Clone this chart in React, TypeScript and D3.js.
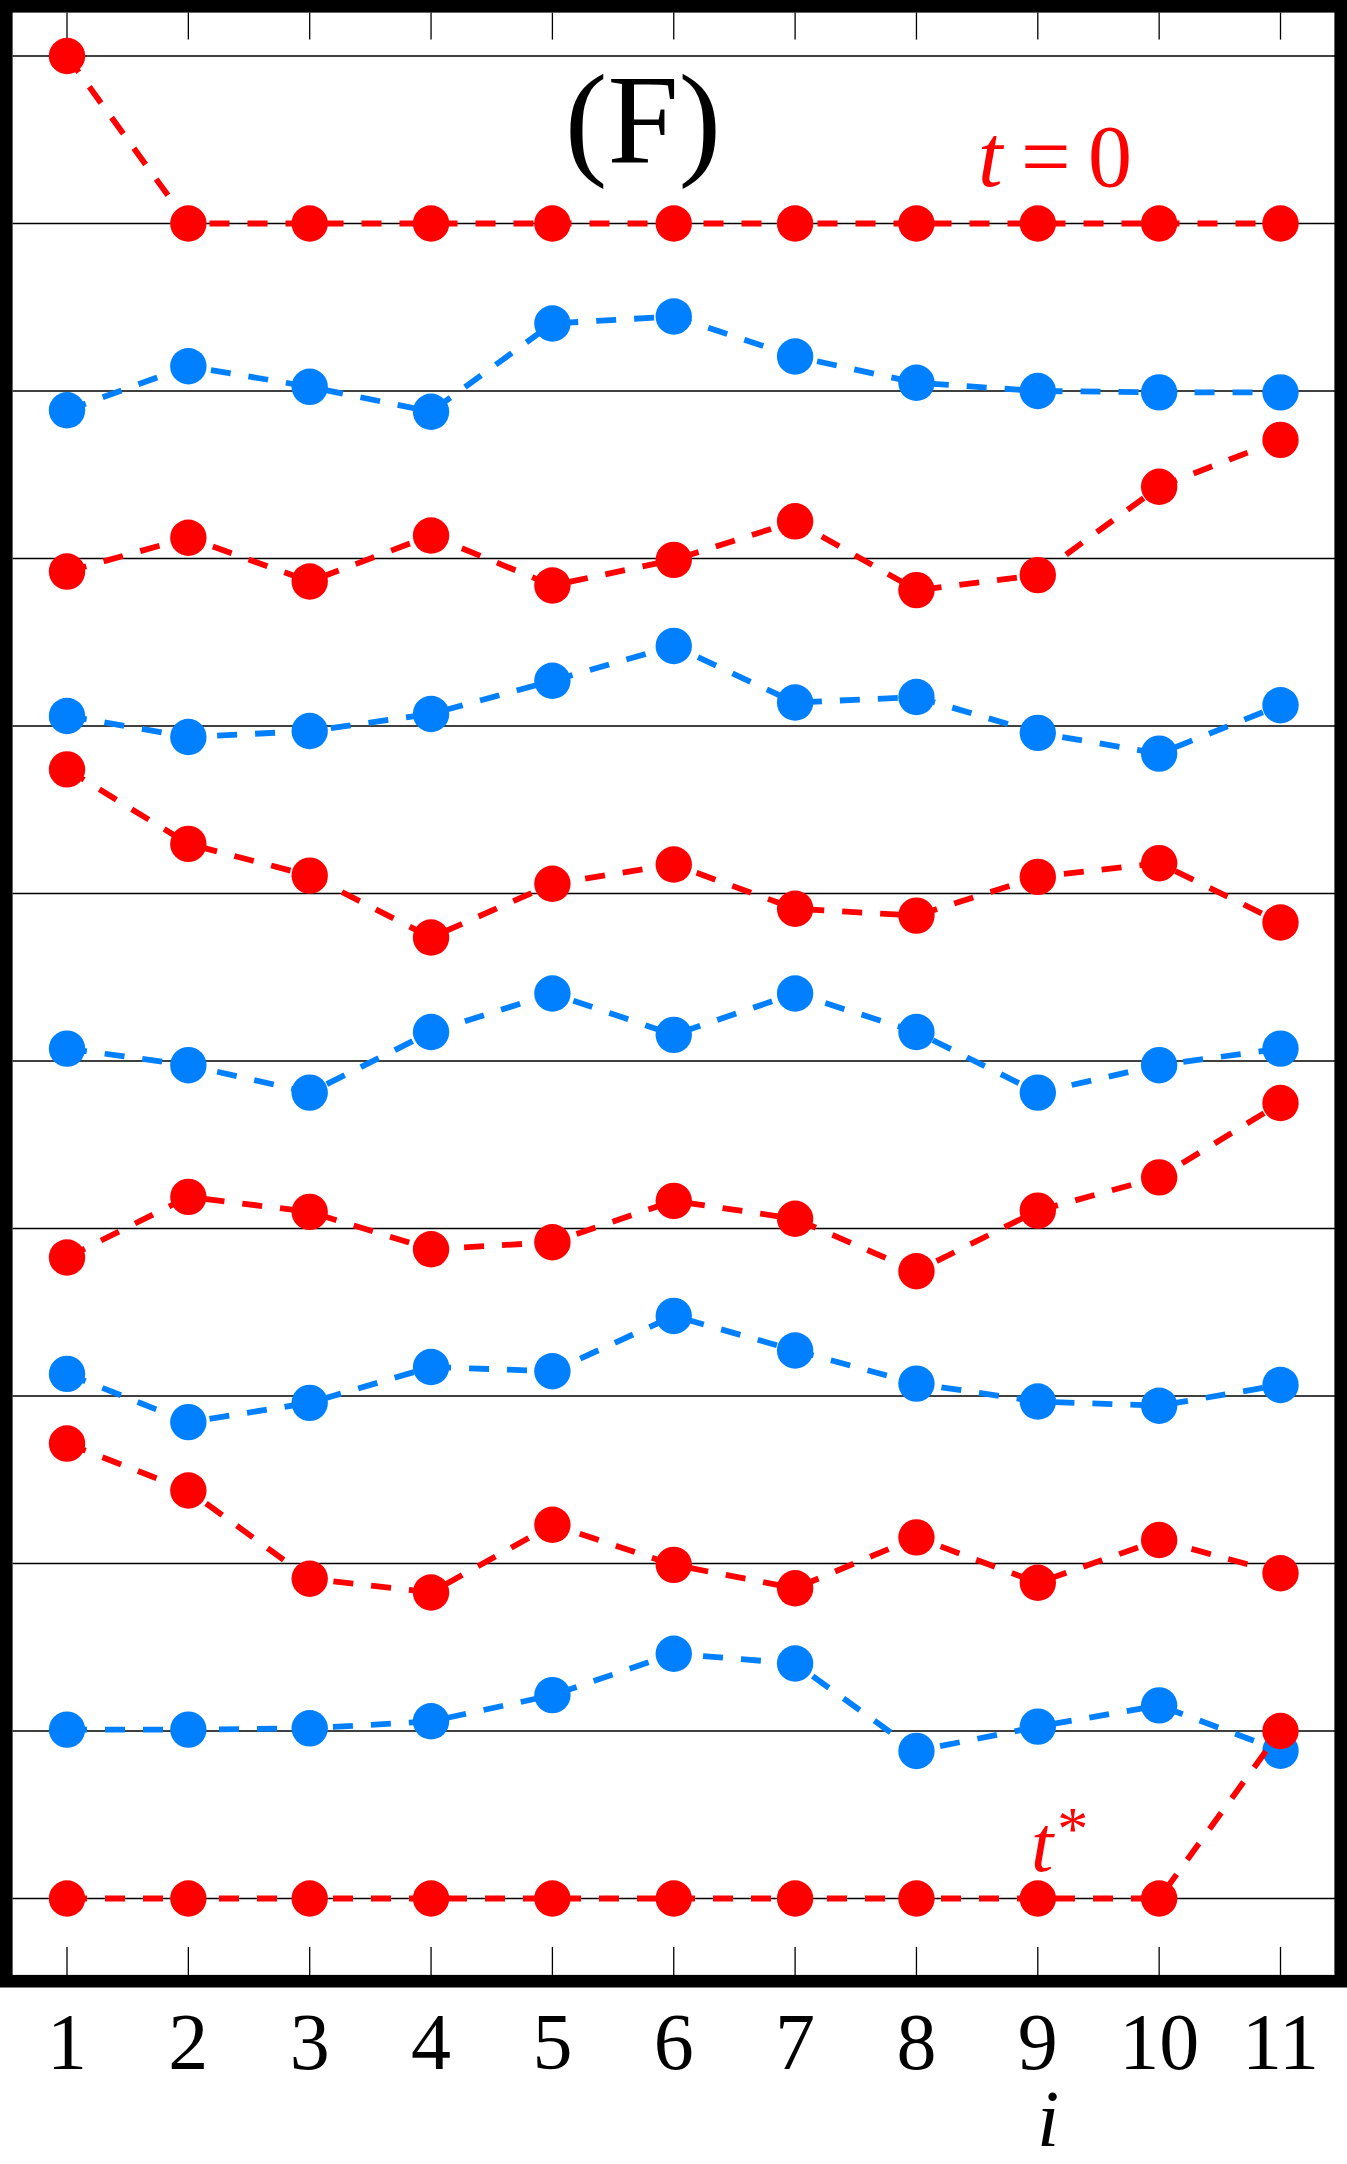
import React from "react";
import * as d3 from "d3";

const W = 1347;
const H = 2164;

const steps = [1, 2, 3, 4, 5, 6, 7, 8, 9, 10, 11];
const gridLevels = [0, 1, 2, 3, 4, 5, 6, 7, 8, 9, 10, 11];

const s0 = [11, 10, 10, 10, 10, 10, 10, 10, 10, 10, 10];
const s1 = [8.885, 9.148, 9.025, 8.876, 9.403, 9.445, 9.206, 9.049, 9.0, 8.992, 8.992];
const s2 = [7.922, 8.124, 7.863, 8.137, 7.839, 7.992, 8.222, 7.811, 7.901, 8.428, 8.708];
const s3 = [7.06, 6.934, 6.97, 7.072, 7.27, 7.478, 7.14, 7.173, 6.959, 6.835, 7.124];
const s4 = [6.741, 6.296, 6.107, 5.737, 6.058, 6.173, 5.909, 5.868, 6.099, 6.181, 5.827];
const s5 = [5.074, 4.975, 4.811, 5.173, 5.403, 5.156, 5.403, 5.173, 4.811, 4.975, 5.074];
const s6 = [3.827, 4.189, 4.099, 3.876, 3.918, 4.165, 4.058, 3.745, 4.107, 4.305, 4.749];
const s7 = [3.132, 2.844, 2.959, 3.173, 3.148, 3.478, 3.272, 3.074, 2.967, 2.942, 3.066];
const s8 = [2.716, 2.436, 1.909, 1.827, 2.231, 1.992, 1.852, 2.156, 1.885, 2.14, 1.942];
const s9 = [1.008, 1.008, 1.016, 1.058, 1.214, 1.461, 1.403, 0.881, 1.026, 1.153, 0.882];
const s10 = [0, 0, 0, 0, 0, 0, 0, 0, 0, 0, 1];

const RED = "#ff0000";
const BLUE = "#0080ff";
const seriesList = [s0, s1, s2, s3, s4, s5, s6, s7, s8, s9, s10];
const seriesColors = [RED, BLUE, RED, BLUE, RED, BLUE, RED, BLUE, RED, BLUE, RED];

const FONT = "'Liberation Serif', 'DejaVu Serif', serif";

export default function App() {
  const frameOuter = { x0: 0, y0: 0, x1: 1347, y1: 1987.5 };
  const fw = 12.6;
  const inner = {
    x0: frameOuter.x0 + fw,
    y0: frameOuter.y0 + fw,
    x1: frameOuter.x1 - fw + 1,
    y1: frameOuter.y1 - fw,
  };

  const x = d3.scaleLinear().domain([1, 11]).range([67, 1280.5]);
  const y = d3.scaleLinear().domain([0, 11]).range([1898.5, 56]);

  const line = d3
    .line<number>()
    .x((_, i) => x(steps[i]))
    .y((d) => y(d));

  return (
    <svg
      width={W}
      height={H}
      viewBox={`0 0 ${W} ${H}`}
      style={{ position: "absolute", left: 0, top: 0, background: "#fff" }}
    >
      <rect x={0} y={0} width={W} height={H} fill="#fff" />
      {gridLevels.map((g) => (
        <line
          key={"g" + g}
          x1={inner.x0}
          x2={inner.x1}
          y1={y(g)}
          y2={y(g)}
          stroke="#000"
          strokeWidth={1.3}
        />
      ))}
      {steps.map((s) => (
        <g key={"t" + s}>
          <line x1={x(s)} x2={x(s)} y1={inner.y0} y2={inner.y0 + 27} stroke="#000" strokeWidth={1.3} />
          <line x1={x(s)} x2={x(s)} y1={inner.y1} y2={inner.y1 - 28} stroke="#000" strokeWidth={1.3} />
        </g>
      ))}
      {seriesList.map((s, k) => (
        <g key={"s" + k}>
          <path
            d={line(s) || ""}
            fill="none"
            stroke={seriesColors[k]}
            strokeWidth={5.8}
            strokeDasharray="20 18"
          />
          {s.map((v, i) => (
            <circle key={i} cx={x(steps[i])} cy={y(v)} r={18.2} fill={seriesColors[k]} />
          ))}
        </g>
      ))}
      <rect
        x={frameOuter.x0 + fw / 2}
        y={frameOuter.y0 + fw / 2}
        width={frameOuter.x1 - frameOuter.x0 - fw}
        height={frameOuter.y1 - frameOuter.y0 - fw}
        fill="none"
        stroke="#000"
        strokeWidth={fw}
      />
      <text x={643} y={162} textAnchor="middle" fontFamily={FONT} fontSize={128} fill="#000">
        (F)
      </text>
      <text y={186} fontFamily={FONT} fontSize={88} fill={RED}>
        <tspan x={978} fontStyle="italic">t</tspan>
        <tspan x={1021}>=</tspan>
        <tspan x={1088}>0</tspan>
      </text>
      <text x={1031} y={1871} fontFamily={FONT} fontSize={80} fill={RED}>
        <tspan fontStyle="italic">t</tspan>
        <tspan dx={4} dy={-22} fontSize={62}>*</tspan>
      </text>
      {steps.map((s) => (
        <text
          key={"l" + s}
          x={x(s)}
          y={2069}
          textAnchor="middle"
          fontFamily={FONT}
          fontSize={80}
          fill="#000"
        >
          {s}
        </text>
      ))}
      <text x={1048} y={2146} textAnchor="middle" fontFamily={FONT} fontSize={80} fontStyle="italic" fill="#000">
        i
      </text>
    </svg>
  );
}
